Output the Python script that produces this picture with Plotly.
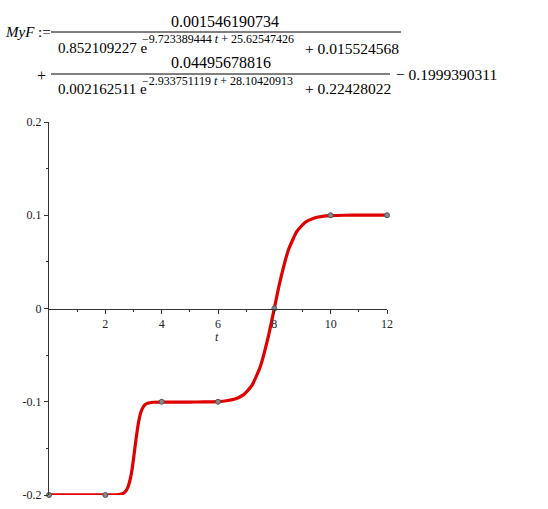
import plotly.graph_objects as go

# ---- data ----
t_curve = [0, 0.5, 1, 1.5, 2, 2.4, 2.6, 2.7, 2.8, 2.9, 2.95, 3.0, 3.05, 3.1, 3.15, 3.2, 3.25, 3.3, 3.4, 3.5,
           3.7, 4.0, 5.0, 5.5, 6.0, 6.3, 6.6, 6.9, 7.2, 7.5, 7.8, 8.0, 8.2, 8.5, 8.8, 9.1, 9.4, 9.7,
           10.0, 10.5, 11.0, 12.0]
y_curve = [-0.19994, -0.19994, -0.19994, -0.19994, -0.19994, -0.19976, -0.19867, -0.19665, -0.19170,
           -0.18076, -0.17226, -0.16142, -0.14940, -0.13768, -0.12740, -0.11876, -0.11240, -0.10821,
           -0.10347, -0.10155, -0.10052, -0.10035, -0.10031, -0.10021, -0.09977, -0.09897, -0.09707,
           -0.09264, -0.08272, -0.06254, -0.02834, 0.00025, 0.02881, 0.06277, 0.08272, 0.09252,
           0.09689, 0.09876, 0.09955, 0.09998, 0.10008, 0.10011]
t_pts = [0, 2, 4, 6, 8, 10, 12]
y_pts = [-0.2, -0.2, -0.1, -0.1, 0.0, 0.1, 0.1]
x_ticks = [2, 4, 6, 8, 10, 12]
x_ticktext = ["2", "4", "6", "8", "10", "12"]
y_ticks = [-0.2, -0.1, 0, 0.1, 0.2]
y_ticktext = ["-0.2", "-0.1", "0", "0.1", "0.2"]

W, H = 548, 509
L, R, T, B = 49, 161, 122, 14
PW, PH = W - L - R, H - T - B


def px(x):
    return (x - L) / PW


def py(y):
    return (H - B - y) / PH


SERIF = "Liberation Serif, Times New Roman, serif"

fig = go.Figure()
fig.add_trace(go.Scatter(x=t_curve, y=y_curve, mode="lines",
                         line=dict(color="#e00000", width=3.2, shape="spline", smoothing=0.5),
                         cliponaxis=False, hoverinfo="skip", showlegend=False))
fig.add_trace(go.Scatter(x=t_pts, y=y_pts, mode="markers",
                         marker=dict(symbol="circle", size=5, color="#8a8a8a",
                                     line=dict(color="#555555", width=1)),
                         cliponaxis=False, showlegend=False))

ann = []


def txt(x, y, s, size=15, anchor="left"):
    ann.append(dict(x=px(x), y=py(y), xref="paper", yref="paper", text=s,
                    showarrow=False, xanchor=anchor, yanchor="middle",
                    font=dict(family=SERIF, size=size, color="black")))


MINUS = "\u2212"
txt(3, 32, "<i>MyF</i> :=", size=15)
txt(225, 21, "0.001546190734", size=16, anchor="center")
txt(56, 48, "0.852109227 e")
txt(140, 39, MINUS + "9.723389444 <i>t</i> + 25.62547426", size=12)
txt(303, 48, "+ 0.015524568", size=15.5)
txt(35, 76, "+", size=16)
txt(221, 63, "0.04495678816", size=16, anchor="center")
txt(56, 89, "0.002162511 e")
txt(140, 81, MINUS + "2.933751119 <i>t</i> + 28.10420913", size=12)
txt(303, 89, "+ 0.22428022", size=15.5)
txt(394, 75, MINUS + " 0.1999390311", size=15.5)
# axis title
ann.append(dict(x=px(217), y=py(337), xref="paper", yref="paper", text="<i>t</i>",
                showarrow=False, xanchor="center", yanchor="middle",
                font=dict(family=SERIF, size=12, color="#222")))

shapes = [
    dict(type="line", xref="paper", yref="paper", x0=px(51), x1=px(401), y0=py(32), y1=py(32),
         line=dict(color="black", width=1)),
    dict(type="line", xref="paper", yref="paper", x0=px(51), x1=px(390), y0=py(74), y1=py(74),
         line=dict(color="black", width=1)),
]

fig.update_layout(
    width=W, height=H, margin=dict(l=L, r=R, t=T, b=B, pad=0, autoexpand=False),
    paper_bgcolor="white", plot_bgcolor="white",
    annotations=ann, shapes=shapes,
    xaxis=dict(range=[0, 12], anchor="free", position=0.5, showline=True,
               linecolor="#333", linewidth=1, ticks="outside", ticklen=4,
               tickcolor="#333", tickvals=x_ticks, ticktext=x_ticktext,
               minor=dict(tickvals=[1, 3, 5, 7, 9, 11], ticklen=2, ticks="outside",
                          tickcolor="#333"),
               showgrid=False, zeroline=False, automargin=False,
               tickfont=dict(family=SERIF, size=12, color="#222")),
    yaxis=dict(range=[-0.2, 0.2], showline=True, linecolor="#333", linewidth=1,
               ticks="outside", ticklen=4, tickcolor="#333",
               tickvals=y_ticks, ticktext=y_ticktext,
               minor=dict(tickvals=[-0.15, -0.05, 0.05, 0.15], ticklen=2, ticks="outside",
                          tickcolor="#333"),
               showgrid=False, zeroline=False, automargin=False,
               tickfont=dict(family=SERIF, size=12, color="#222")),
)

fig.write_html("out.html", config={"displayModeBar": False},
               post_script="document.body.style.margin='0px';document.body.style.overflow='hidden';")
